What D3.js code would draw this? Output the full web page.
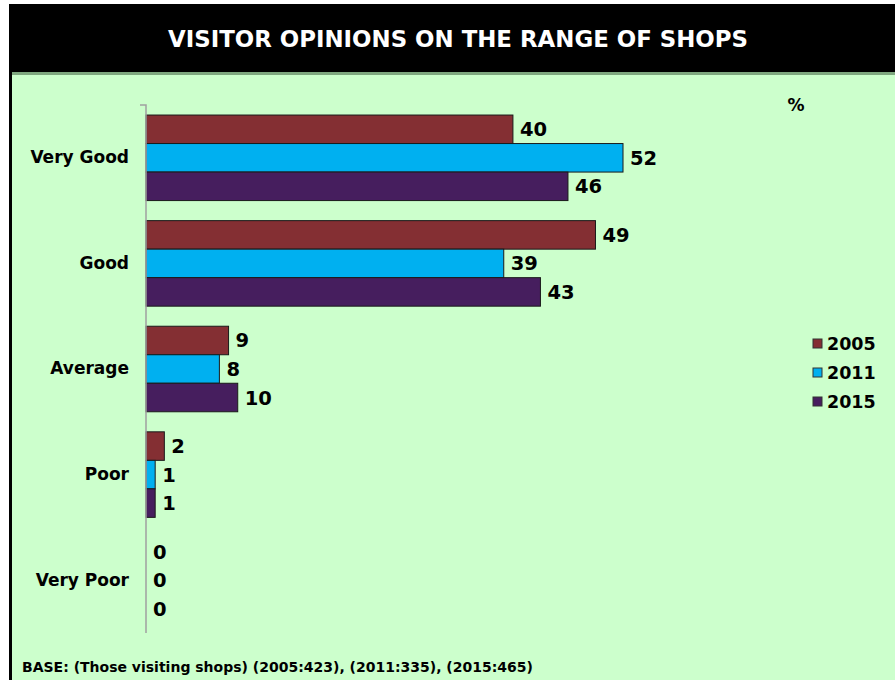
<!DOCTYPE html>
<html>
<head>
<meta charset="utf-8">
<script src="https://cdn.jsdelivr.net/npm/d3@7"></script>
<style>
  body { margin: 0; background: #fff; }
  svg { display: block; font-family: "DejaVu Sans", Verdana, sans-serif; }
</style>
</head>
<body>
<svg id="chart" width="895" height="680"></svg>
<script>
var categories = ["Very Good", "Good", "Average", "Poor", "Very Poor"];
var years = ["2005", "2011", "2015"];
var values2005 = [40, 49, 9, 2, 0];
var values2011 = [52, 39, 8, 1, 0];
var values2015 = [46, 43, 10, 1, 0];
var colors = ["#842f33", "#00b0f0", "#461e5e"];

var svg = d3.select("#chart");

// page frame
svg.append("rect").attr("x", 9).attr("y", 4).attr("width", 886).attr("height", 676).attr("fill", "#000");
svg.append("rect").attr("x", 12).attr("y", 72).attr("width", 883).attr("height", 608).attr("fill", "#ccffcc");
svg.append("rect").attr("x", 12).attr("y", 72).attr("width", 883).attr("height", 3).attr("fill", "#7fa77f");

svg.append("text")
    .attr("x", 458).attr("y", 47)
    .attr("text-anchor", "middle")
    .attr("fill", "#fff")
    .style("font-size", "23px")
    .style("font-weight", "bold")
    .attr("textLength", 580)
    .attr("lengthAdjust", "spacingAndGlyphs")
    .text("VISITOR OPINIONS ON THE RANGE OF SHOPS");

var margin = {top: 105, left: 146},
    plotWidth = 477,
    plotHeight = 528;

var g = svg.append("g")
    .attr("transform", "translate(" + margin.left + "," + margin.top + ")");

var x = d3.scaleLinear().domain([0, 52]).range([0, plotWidth]);
var y = d3.scaleBand().domain(categories).range([0, plotHeight]).paddingInner(0.19).paddingOuter(0.095);
var ySub = d3.scaleBand().domain(years).range([0, y.bandwidth()]);

var data = categories.map(function(c, i) {
    return {
        key: c,
        values: [
            {year: "2005", value: values2005[i]},
            {year: "2011", value: values2011[i]},
            {year: "2015", value: values2015[i]}
        ]
    };
});

var groups = g.selectAll(".cat")
    .data(data)
    .enter()
    .append("g")
    .attr("class", "cat")
    .attr("transform", function(d) { return "translate(0," + y(d.key) + ")"; });

groups.selectAll("rect")
    .data(function(d) { return d.values; })
    .enter()
    .append("rect")
    .filter(function(d) { return d.value > 0; })
    .attr("x", 0)
    .attr("y", function(d) { return ySub(d.year); })
    .attr("width", function(d) { return x(d.value); })
    .attr("height", ySub.bandwidth())
    .attr("fill", function(d) { return colors[years.indexOf(d.year)]; })
    .attr("stroke", "#1a1a1a")
    .attr("stroke-width", 1);

groups.selectAll(".val")
    .data(function(d) { return d.values; })
    .enter()
    .append("text")
    .attr("class", "val")
    .attr("x", function(d) { return x(d.value) + 7; })
    .attr("y", function(d) { return ySub(d.year) + ySub.bandwidth() / 2; })
    .attr("dy", "0.36em")
    .style("font-size", "19.5px")
    .style("font-weight", "bold")
    .attr("fill", "#000")
    .text(function(d) { return d.value; });

// Category axis
var yAxis = g.append("g")
    .call(d3.axisLeft(y).tickSize(0).tickPadding(17));
yAxis.select(".domain").attr("stroke", "#a0a0a0").attr("stroke-width", 1.5)
    .attr("d", "M-6,0H0V" + plotHeight);
yAxis.selectAll("text")
    .style("font-size", "17px")
    .style("font-weight", "bold")
    .style("font-family", "DejaVu Sans, Verdana, sans-serif")
    .attr("fill", "#000");

svg.append("text")
    .attr("x", 796).attr("y", 111)
    .attr("text-anchor", "middle")
    .style("font-size", "17px")
    .style("font-weight", "bold")
    .text("%");

// Legend
var legend = svg.append("g").attr("transform", "translate(813,336)");
var li = legend.selectAll("g")
    .data(years)
    .enter()
    .append("g")
    .attr("transform", function(d, i) { return "translate(0," + (i * 29) + ")"; });
li.append("rect")
    .attr("x", 0).attr("y", 3)
    .attr("width", 9).attr("height", 9)
    .attr("fill", function(d, i) { return colors[i]; })
    .attr("stroke", "#333");
li.append("text")
    .attr("x", 14).attr("y", 8)
    .attr("dy", "0.36em")
    .style("font-size", "17.5px")
    .style("font-weight", "bold")
    .text(function(d) { return d; });

svg.append("text")
    .attr("x", 22).attr("y", 672)
    .style("font-size", "14px")
    .style("font-weight", "bold")
    .text("BASE: (Those visiting shops) (2005:423), (2011:335), (2015:465)");
</script>
</body>
</html>
